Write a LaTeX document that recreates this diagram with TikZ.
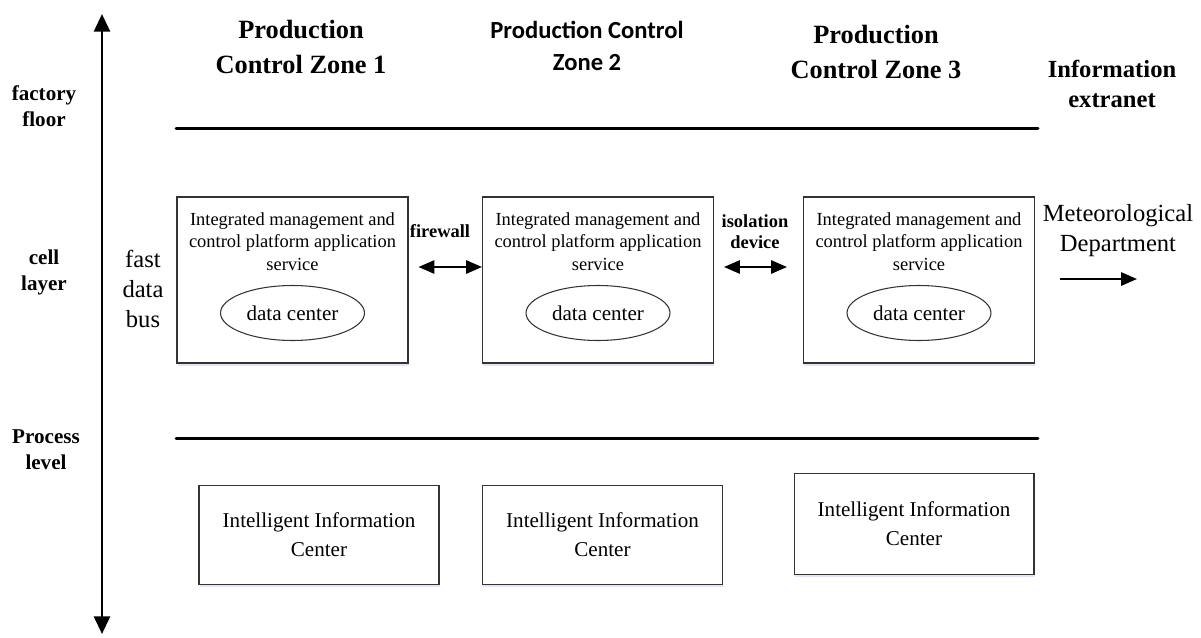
\documentclass[tikz,border=0pt]{standalone}
\usepackage{fontspec}
\setmainfont{Liberation Serif}
\newfontfamily\calibri{Carlito}
\usetikzlibrary{positioning, arrows.meta, shapes.geometric, shadows}
\tikzset{
    zonehead/.style={font=\bfseries\fontsize{15}{20.4}\selectfont, align=center}, % column titles
    layerlbl/.style={font=\bfseries\fontsize{12}{14.8}\selectfont, align=center}, % levels on the axis
    gatelbl/.style={font=\bfseries\fontsize{10.5}{12}\selectfont, align=center},
    plainlbl/.style={font=\fontsize{14}{17}\selectfont, align=center},
    boxshadow/.style={drop shadow={shadow xshift=0.4pt, shadow yshift=-1.6pt, fill=blue!30, opacity=0.35}},
    platbox/.style={draw=black!80, line width=0.6pt, fill=white, minimum width=4.62cm, minimum height=3.32cm, boxshadow},
    svctext/.style={font=\fontsize{10.5}{12.8}\selectfont, align=center},
    dcell/.style={ellipse, draw=black!80, line width=0.6pt, fill=white, minimum width=2.88cm, minimum height=1.1cm, inner sep=0pt, font=\fontsize{12}{14}\selectfont},
    infobox/.style={draw=black!80, line width=0.6pt, fill=white, minimum width=4.8cm, minimum height=1.98cm, align=center, font=\fontsize{12}{16.5}\selectfont, boxshadow},
    rule/.style={line width=1.7pt, line cap=round},
    axis/.style={line width=1.7pt, {Triangle[length=10pt,width=9pt]}-{Triangle[length=10pt,width=9pt]}},
    link/.style={line width=1.1pt, {Triangle[length=9pt,width=7.5pt]}-{Triangle[length=9pt,width=7.5pt]}},
    outlink/.style={line width=1.1pt, -{Triangle[length=9pt,width=7.5pt]}},
}
\begin{document}
\begin{tikzpicture}[x=0.02cm, y=-0.02cm]
\useasboundingbox (0,0) rectangle (1201,637);

% vertical axis
\coordinate (top) at (102,14);
\coordinate (bot) at (102,634);
\draw[axis] (bot) -- (top);

% column titles
\node[zonehead] (z1) at (301,47) {Production\\Control Zone 1};
\node[zonehead, font=\calibri\bfseries\fontsize{14}{18}\selectfont] (z2) at (587,46) {Production Control\\Zone 2};
\node[zonehead] (z3) at (876,52) {Production\\Control Zone 3};
\node[zonehead, font=\bfseries\fontsize{14}{17}\selectfont] (ext) at (1112,84) {Information\\extranet};

% levels
\node[layerlbl] (floor) at (44,106) {factory\\floor};
\node[layerlbl] (cell) at (44,272) {cell\\layer};
\node[layerlbl] (proc) at (46,450) {Process\\level};

% separating rules
\coordinate (r1a) at (176,128);
\coordinate (r1b) at (1038,128);
\coordinate (r2a) at (176,438);
\coordinate (r2b) at (1038,438);
\draw[rule] (r1a) -- (r1b);
\draw[rule] (r2a) -- (r2b);

\node[plainlbl] (bus) at (143,289) {fast\\data\\bus};

% cell layer platforms
\node[platbox] (m1) at (292.5,280) {};
\node[platbox] (m2) at (598,280) {};
\node[platbox] (m3) at (919,280) {};
\foreach \i in {1,2,3} {
    \node[svctext, below=0.2cm of m\i.north] (s\i) {Integrated management and\\control platform application\\service};
    \node[dcell] (d\i) at ([yshift=-0.66cm]m\i.center) {data center};
}

\node[gatelbl] (fw) at (440,231) {firewall};
\node[gatelbl] (iso) at (755,232) {isolation\\device};
\draw[link] ([xshift=0.2cm, yshift=0.26cm]m1.east) -- ([yshift=0.26cm]m2.west);
\draw[link] ([xshift=0.2cm, yshift=0.26cm]m2.east) -- ([xshift=-0.32cm, yshift=0.26cm]m3.west);

\node[plainlbl] (met) at (1118,231) {Meteorological\\Department};
\coordinate (ma) at (1060,279);
\coordinate (mb) at (1137,279);
\draw[outlink] (ma) -- (mb);

% process level
\node[infobox] (c1) at (319,535) {Intelligent Information\\Center};
\node[infobox] (c2) at (602.5,535) {Intelligent Information\\Center};
\node[infobox, minimum height=2.02cm] (c3) at (914,524) {Intelligent Information\\Center};
\end{tikzpicture}
\end{document}
